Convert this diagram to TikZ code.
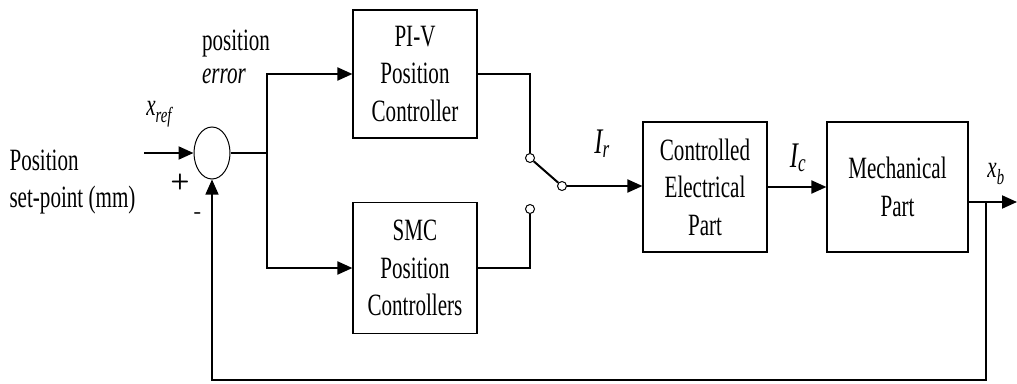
\documentclass[tikz,border=0pt]{standalone}
\usepackage{fontspec}
\setmainfont{Liberation Serif}[FakeStretch=0.68]
\usetikzlibrary{arrows.meta,shapes.geometric}

\tikzset{
    block/.style={draw, line width=1.2pt, minimum width=124pt, minimum height=130pt, align=center, inner sep=0pt},
    signal/.style={line width=2pt, -{Triangle[length=15pt,width=13pt]}},
    wire/.style={line width=2pt},
    contact/.style={circle, draw, line width=1pt, fill=white, minimum size=9pt, inner sep=0pt},
    siglabel/.style={font=\fontsize{36}{40}\selectfont\itshape},
}

\begin{document}
\begin{tikzpicture}[x=1pt,y=-1pt,font=\fontsize{31}{37.5}\selectfont]
    \pgfmathsetmacro{\mainY}{153}
    \pgfmathsetmacro{\splitX}{267}
    \pgfmathsetmacro{\tapX}{986}
    \pgfmathsetmacro{\returnY}{380}

    \useasboundingbox (0,0) rectangle (1017,383);

    % Summierpunkt
    \node[ellipse, draw, line width=1pt, minimum width=36pt, minimum height=52pt, inner sep=0pt] (sum) at (212,\mainY) {};
    \coordinate (in) at (144,\mainY);
    \draw[signal] (in) -- (sum.west);
    \node[anchor=west, align=left] (setpoint) at (6,182) {Position\\set-point (mm)};
    \node (xref) at (160,114) {\textit{x}\textsubscript{\textit{ref}}};
    \node[font=\fontsize{22}{24}\selectfont\bfseries\sffamily] (plus) at (180,182) {+};
    \node[font=\fontsize{22}{24}\selectfont\bfseries\sffamily] (minus) at (198,216) {-};

    % Regler
    \node[block, minimum height=128pt] (piv) at (415,74) {PI-V\\Position\\Controller};
    \node[block, minimum height=131pt] (smc) at (415,268) {SMC\\Position\\Controllers};

    % Verzweigung
    \coordinate (split) at (\splitX,\mainY);
    \draw[wire] (sum.east) -- (split);
    \draw[signal] (split) |- (piv.west);
    \draw[signal] (split) |- (smc.west);
    \node (poserr) at (236,44) {position};
    \node[font=\fontsize{31}{37.5}\selectfont\itshape] (errlbl) at (224,76) {error};

    % Schalter
    \node[contact] (swA) at (530,158) {};
    \node[contact] (swB) at (530,209) {};
    \node[contact] (swP) at (562,186) {};
    \draw[wire] (piv.east) -| (swA);
    \draw[wire] (smc.east) -| (swB);
    \draw[wire] (swA) -- (swP);

    % Strecke
    \node[block] (elec) at (705,187) {Controlled\\Electrical\\Part};
    \node[block, minimum width=141pt] (mech) at (897.5,187) {Mechanical\\Part};
    \draw[signal] (swP) -- (swP -| elec.west);
    \node[siglabel] (ir) at (602,144) {I\textsubscript{r}};
    \draw[signal] (elec.east) -- (mech.west);
    \node[siglabel] (ic) at (798,158) {I\textsubscript{c}};

    % Ausgang
    \coordinate (tap) at (\tapX,202);
    \coordinate (out) at (1017,202);
    \draw[signal] (mech.east |- out) -- (out);
    \node (xb) at (996,174) {\textit{x}\textsubscript{\textit{b}}};

    % Rueckfuehrung
    \coordinate (ret) at (\tapX,\returnY);
    \draw[line width=1.4pt, -{Triangle[length=15pt,width=13pt]}] (tap) -- (ret) -| (sum.south);
\end{tikzpicture}
\end{document}
